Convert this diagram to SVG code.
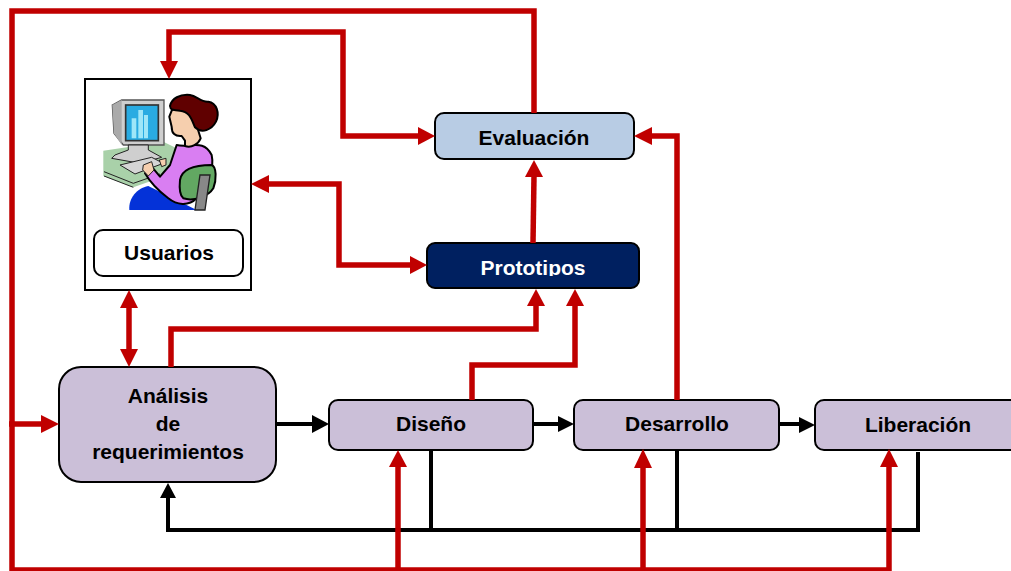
<svg xmlns="http://www.w3.org/2000/svg" width="1011" height="571" viewBox="0 0 1011 571">
<style>
text{font-family:"Liberation Sans",Arial,sans-serif;font-weight:bold;font-size:21px;fill:#000;text-anchor:middle}
.box{stroke:#000;stroke-width:2}
.p{fill:#cbbfd8}
.r{fill:none;stroke:#c00000;stroke-width:5.5}
.k{fill:none;stroke:#000;stroke-width:4}
.ah{fill:#c00000}
.bh{fill:#000}
.o{stroke:#000;stroke-width:6;stroke-linejoin:round;stroke-linecap:round}
</style>
<defs>
<clipPath id="pc"><rect x="427" y="243" width="212" height="33"/></clipPath>
</defs>
<rect width="1011" height="571" fill="#fff"/>
<g id="usuarios">
<rect x="85" y="79" width="166" height="211" fill="#fff" class="box"/>
<g id="person" transform="translate(80 70) scale(.3333)">
<path d="M70 242L250 215L290 235L250 320L160 352L70 318Z" fill="#a9d1a9"/>
<path d="M72 305L160 340L240 312M72 318L160 352" fill="none" stroke="#222" stroke-width="3"/>
<path d="M97 105L125 90H252V225H130L102 190Z" fill="#cfcfcf" stroke="#555" stroke-width="4"/>
<path d="M97 105L125 90V225L102 190Z" fill="#aaa"/>
<rect x="137" y="105" width="98" height="107" fill="#29abe2" stroke="#333" stroke-width="5"/>
<path d="M155 145h14v60h-14zM175 120h14v85h-14zM192 135h12v70h-12z" fill="#9fe6f8"/>
<path d="M145 225V240L105 255L95 265L180 280L245 262L205 240V225Z" fill="#cfcfcf" stroke="#222" stroke-width="3"/>
<path d="M120 285L215 262L250 280L165 312Z" fill="#d5d5d5" stroke="#222" stroke-width="3"/>
<path d="M148 420C145 385 170 355 205 348L300 395L350 420Z" fill="#0432d8"/>
<path d="M290 225C330 235 370 205 395 255C405 300 380 350 350 385C325 410 290 405 265 385C245 370 215 345 195 310L215 290L240 320L270 285Z" fill="#d97ef2" class="o"/>
<path d="M300 330C305 300 340 285 395 285C410 290 410 330 400 355C385 380 340 395 310 385C298 375 298 350 300 330Z" fill="#62a862" class="o"/>
<path d="M360 315H390L375 420H345Z" fill="#888" stroke="#222" stroke-width="4"/>
<path d="M276 120L268 140L275 170C275 190 285 200 305 198L315 212V228C335 235 355 222 362 205L345 150L310 110Z" fill="#f6cfae" class="o"/>
<path d="M270 108C275 85 300 72 330 75C350 78 365 98 385 95C410 98 420 130 408 155C395 180 365 192 345 172C335 150 330 125 300 122C285 118 272 125 270 108Z" fill="#600000" class="o"/>
<path d="M190 285L215 275L222 300L205 318L188 300Z" fill="#f6cfae" stroke="#222" stroke-width="3"/>
<path d="M238 270L258 265L258 285L245 290Z" fill="#f6cfae" stroke="#222" stroke-width="3"/>
</g>
<rect x="94" y="230" width="149" height="46" rx="9" fill="#fff" class="box"/>
<text x="169" y="260">Usuarios</text>
</g>
<g id="evaluacion">
<rect x="435" y="113" width="199" height="46" rx="9" fill="#b8cce4" class="box"/>
<text x="534" y="145">Evaluación</text>
</g>
<g id="prototipos">
<rect x="427" y="243" width="212" height="45" rx="8" fill="#002060" class="box"/>
<text x="533" y="275" clip-path="url(#pc)" style="fill:#fff">Prototipos</text>
</g>
<g id="analisis">
<rect x="59" y="367" width="217" height="115" rx="22" class="box p"/>
<text x="168" y="403">Análisis</text>
<text x="168" y="431">de</text>
<text x="168" y="459">requerimientos</text>
</g>
<g id="diseno">
<rect x="329" y="400" width="204" height="50" rx="9" class="box p"/>
<text x="431" y="431">Diseño</text>
</g>
<g id="desarrollo">
<rect x="574" y="400" width="205" height="50" rx="9" class="box p"/>
<text x="677" y="431">Desarrollo</text>
</g>
<g id="liberacion">
<rect x="815" y="400" width="205" height="50" rx="9" class="box p"/>
<text x="918" y="432">Liberación</text>
</g>
<g id="connectors">
<path class="k" d="M276 424H312"/>
<path class="bh" d="M312 415L329 424L312 433Z"/>
<path class="k" d="M533 424H559"/>
<path class="bh" d="M558 416L574 424L558 432Z"/>
<path class="k" d="M779 424H800"/>
<path class="bh" d="M799 417L815 425L799 433Z"/>
<path class="k" d="M918 452V530H168V498"/>
<path class="bh" d="M160 498L168 483L176 498Z"/>
<path class="k" d="M431 450V530M677 450V530"/>

<path class="r" d="M534 113V11H12V570H889V465"/>
<path class="ah" d="M880 467L889 449L898 467Z"/>
<path class="r" d="M9 424H44"/>
<path class="ah" d="M41 415L59 424L41 433Z"/>
<path class="r" d="M398 570V466"/>
<path class="ah" d="M389 467L398 450L407 467Z"/>
<path class="r" d="M643 570V466"/>
<path class="ah" d="M634 468L643 449L652 468Z"/>
<path class="r" d="M533 243L534 176"/>
<path class="ah" d="M525 177L534 160L543 177Z"/>
<path class="r" d="M677 400V136H650"/>
<path class="ah" d="M652 127L634 136L652 145Z"/>
<path class="r" d="M418 136H343V32H169V62"/>
<path class="ah" d="M418 127L435 136L418 145Z"/>
<path class="ah" d="M160 61L169 79L178 61Z"/>
<path class="r" d="M268 184H339V265H412"/>
<path class="ah" d="M269 175L251 184L269 193Z"/>
<path class="ah" d="M410 256L427 265L410 274Z"/>
<path class="r" d="M129 307V350"/>
<path class="ah" d="M120 308L129 290L138 308Z"/>
<path class="ah" d="M120 349L129 367L138 349Z"/>
<path class="r" d="M171 367V329H536V305"/>
<path class="ah" d="M527 306L536 289L545 306Z"/>
<path class="r" d="M472 400V365H575V305"/>
<path class="ah" d="M566 306L575 289L584 306Z"/>
</g>
</svg>
